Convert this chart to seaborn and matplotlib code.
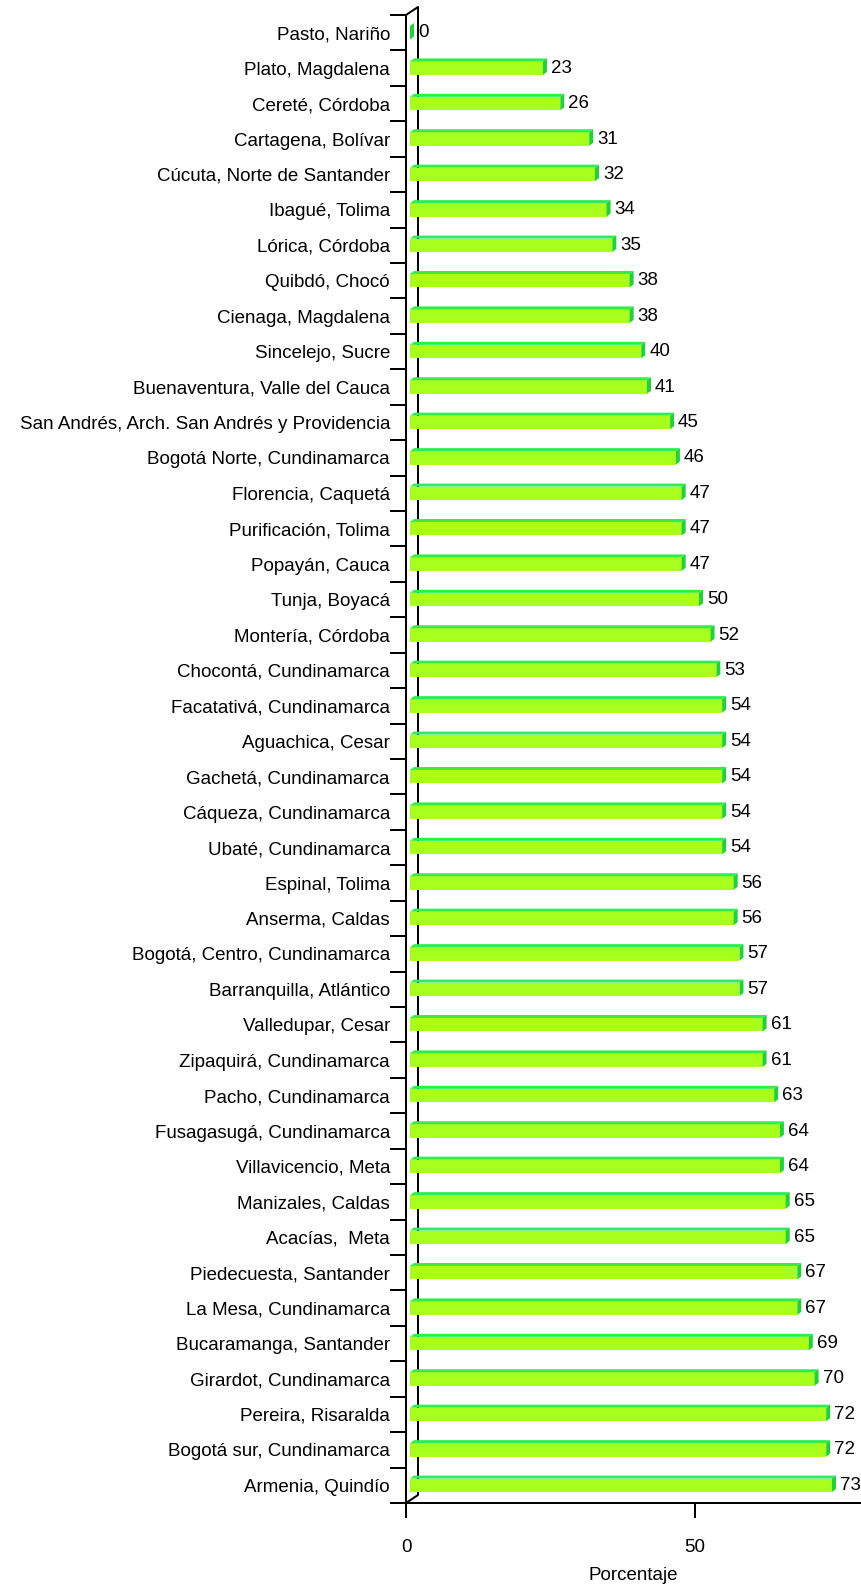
import matplotlib
matplotlib.use("Agg")
import matplotlib.pyplot as plt
from matplotlib.patches import Polygon
from matplotlib.transforms import ScaledTranslation
import seaborn as sns
import pandas as pd
import numpy as np

ciudades = [
    "Pasto, Nariño", "Plato, Magdalena", "Cereté, Córdoba", "Cartagena, Bolívar",
    "Cúcuta, Norte de Santander", "Ibagué, Tolima", "Lórica, Córdoba", "Quibdó, Chocó",
    "Cienaga, Magdalena", "Sincelejo, Sucre", "Buenaventura, Valle del Cauca",
    "San Andrés, Arch. San Andrés y Providencia", "Bogotá Norte, Cundinamarca",
    "Florencia, Caquetá", "Purificación, Tolima", "Popayán, Cauca", "Tunja, Boyacá",
    "Montería, Córdoba", "Chocontá, Cundinamarca", "Facatativá, Cundinamarca",
    "Aguachica, Cesar", "Gachetá, Cundinamarca", "Cáqueza, Cundinamarca",
    "Ubaté, Cundinamarca", "Espinal, Tolima", "Anserma, Caldas",
    "Bogotá, Centro, Cundinamarca", "Barranquilla, Atlántico", "Valledupar, Cesar",
    "Zipaquirá, Cundinamarca", "Pacho, Cundinamarca", "Fusagasugá, Cundinamarca",
    "Villavicencio, Meta", "Manizales, Caldas", "Acacías,  Meta",
    "Piedecuesta, Santander", "La Mesa, Cundinamarca", "Bucaramanga, Santander",
    "Girardot, Cundinamarca", "Pereira, Risaralda", "Bogotá sur, Cundinamarca",
    "Armenia, Quindío",
]
porcentajes = [
    0, 23, 26, 31, 32, 34, 35, 38, 38, 40, 41, 45, 46, 47, 47, 47, 50, 52, 53, 54,
    54, 54, 54, 54, 56, 56, 57, 57, 61, 61, 63, 64, 64, 65, 65, 67, 67, 69, 70, 72,
    72, 73,
]
x_ticks = [0, 50]

df = pd.DataFrame({"ciudad": ciudades, "porcentaje": porcentajes})

sns.set_theme(style="white")
plt.rcParams["font.family"] = ["Liberation Sans", "DejaVu Sans"]
plt.rcParams["text.color"] = "black"
plt.rcParams["xtick.color"] = "black"
plt.rcParams["ytick.color"] = "black"
plt.rcParams["axes.labelcolor"] = "black"

W, H, DPI = 861, 1590, 100
PT = 72 / DPI  # points per pixel
FS = 13.5
LW = 2 * PT

fig = plt.figure(figsize=(W / DPI, H / DPI), dpi=DPI)
ax = fig.add_axes([406 / W, 1 - 1503 / H, (W - 406) / W, (1503 - 15) / H])

front = "#a8ff1c"
top_col = "#2fee4a"
side_col = "#1fd23c"

sns.barplot(data=df, y="ciudad", x="porcentaje", orient="h", color=front,
            width=0.38, saturation=1, edgecolor="none", ax=ax, zorder=2)

n = len(ciudades)
ax.set_xlim(0, (W - 406) / 5.78)
ax.set_ylim(n - 0.5, -0.5)

# 3D look: bars sit at mid-depth, with a top face and a side face
px = 1 / DPI
shift = ScaledTranslation(4 * px, 0, fig.dpi_scale_trans)
depth_x, depth_y = 4, 3
inv = fig.transFigure.inverted()
for p in ax.patches:
    x0, y0 = p.get_x(), p.get_y()
    w, h = p.get_width(), p.get_height()
    tr = ax.transData + shift
    p.set_transform(tr)
    tl, tr_, br = tr.transform([(x0, y0), (x0 + w, y0), (x0 + w, y0 + h)])
    d = np.array([depth_x, depth_y])
    top_pts = [tl, tr_, tr_ + d, tl + d]
    side_pts = [tr_, br, br + d, tr_ + d]
    for pts, col in ((top_pts, top_col), (side_pts, side_col)):
        fig.add_artist(Polygon(inv.transform(np.array(pts)), closed=True,
                               transform=fig.transFigure, facecolor=col,
                               edgecolor="none", zorder=3))

# value labels
for i, v in enumerate(porcentajes):
    ax.annotate(f"{v}", xy=(v, i), xytext=(12, 0), textcoords="offset pixels",
                ha="left", va="center", fontsize=FS, color="black",
                annotation_clip=False)

# axes styling
for s in ("top", "right"):
    ax.spines[s].set_visible(False)
for s in ("left", "bottom"):
    ax.spines[s].set_linewidth(LW)
    ax.spines[s].set_color("black")
    ax.spines[s].set_zorder(4)

ax.set_yticks(range(n))
ax.set_yticklabels(ciudades, fontsize=FS)
ax.set_yticks(np.arange(-0.5, n, 1.0), minor=True)
ax.tick_params(axis="y", which="major", length=0, pad=16 * PT)
ax.tick_params(axis="y", which="minor", length=16 * PT, width=LW, color="black", left=True)
ax.set_xticks(x_ticks)
ax.set_xticklabels([str(t) for t in x_ticks], fontsize=FS)
ax.tick_params(axis="x", which="major", length=15 * PT, width=LW, color="black",
               bottom=True, pad=21 * PT)
ax.set_xlabel("Porcentaje", fontsize=FS, labelpad=11 * PT)
ax.set_ylabel("")
ax.grid(False)

# back wall of the 3D frame
ax_pos = ax.get_position()
dx = 12 / (ax_pos.width * W)
dy = 8 / (ax_pos.height * H)
ax.plot([0, dx, dx, 0], [1, 1 + dy, dy, 0], transform=ax.transAxes, color="black",
        lw=LW, clip_on=False, zorder=1)

fig.savefig("out.png", dpi=DPI)
